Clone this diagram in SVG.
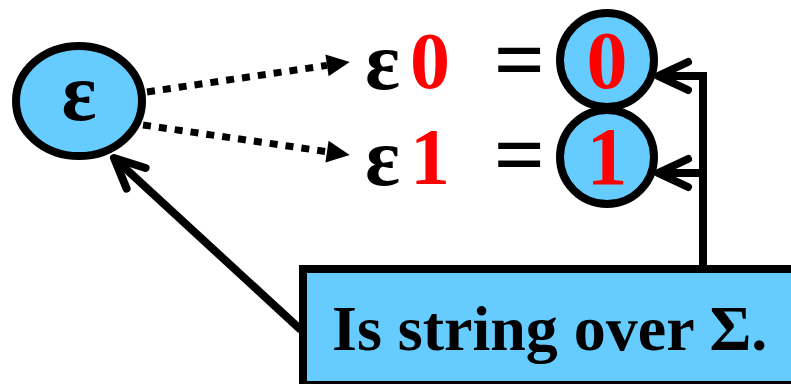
<svg xmlns="http://www.w3.org/2000/svg" width="791" height="384" viewBox="0 0 791 384">
<defs>
<style>
.node{fill:#66CCFF;stroke:#000;stroke-width:8}
.t{font-family:"Liberation Serif","Times New Roman",serif;font-weight:bold}
.blk{fill:#000}
.red{fill:#FF0000}
.dot{fill:none;stroke:#000;stroke-width:7;stroke-dasharray:8 8}
.sol{fill:none;stroke:#000;stroke-width:8}
</style>
<marker id="tri" markerUnits="userSpaceOnUse" markerWidth="30" markerHeight="30" refX="0" refY="0" viewBox="-2 -15 30 30" orient="auto" overflow="visible">
<path d="M0,-11 L23,0 L0,11 Z" fill="#000"/>
</marker>
<marker id="chev" markerUnits="userSpaceOnUse" markerWidth="50" markerHeight="50" refX="0" refY="0" viewBox="-40 -25 50 50" orient="auto" overflow="visible">
<path d="M-30,-14 L0,0 L-30,14" fill="none" stroke="#000" stroke-width="8" stroke-linecap="round" stroke-linejoin="round"/>
</marker>
</defs>
<rect width="791" height="384" fill="#fff"/>
<g id="connectors">
<line class="dot" x1="147" y1="92" x2="327" y2="65.4" marker-end="url(#tri)"/>
<line class="dot" x1="143" y1="125" x2="327" y2="151.7" marker-end="url(#tri)"/>
<line class="sol" x1="301" y1="330" x2="114" y2="158" marker-end="url(#chev)"/>
<polyline class="sol" points="703,268 703,76" />
<line class="sol" x1="707" y1="76" x2="658" y2="76" marker-end="url(#chev)"/>
<line class="sol" x1="703" y1="173" x2="658" y2="173" marker-end="url(#chev)"/>
</g>
<g id="node-eps">
<ellipse class="node" cx="79" cy="101" rx="63" ry="55"/>
<text class="t blk" x="79" y="120" font-size="82" text-anchor="middle">ε</text>
</g>
<g id="label-eps0">
<text class="t blk" x="365" y="89" font-size="82">ε</text>
<text class="t red" x="410" y="88" font-size="80">0</text>
<text class="t blk" x="519.5" y="90" font-size="90" text-anchor="middle">=</text>
</g>
<g id="label-eps1">
<text class="t blk" x="365" y="185" font-size="82">ε</text>
<text class="t red" x="410" y="184" font-size="80">1</text>
<text class="t blk" x="519.5" y="185" font-size="90" text-anchor="middle">=</text>
</g>
<g id="node-0">
<circle class="node" cx="607" cy="60" r="47"/>
<text class="t red" x="607" y="88" font-size="82" text-anchor="middle">0</text>
</g>
<g id="node-1">
<circle class="node" cx="607" cy="157" r="47"/>
<text class="t red" x="607" y="184" font-size="82" text-anchor="middle">1</text>
</g>
<g id="node-box">
<rect class="node" x="303" y="269" width="520" height="116"/>
<text class="t blk" x="332" y="350" font-size="64">Is string over Σ.</text>
</g>
</svg>
